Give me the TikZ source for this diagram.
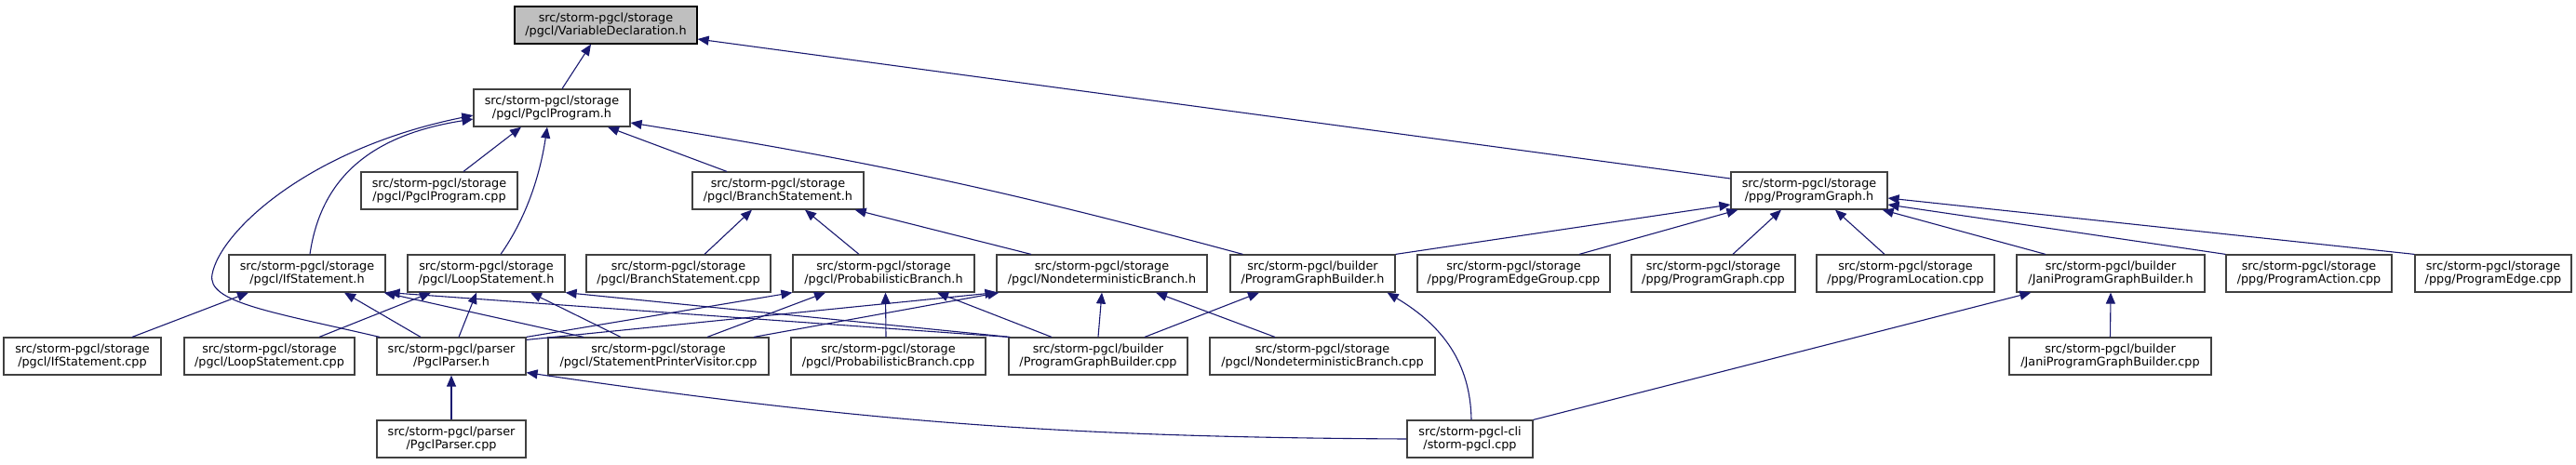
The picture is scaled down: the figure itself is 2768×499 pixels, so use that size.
\documentclass[tikz,border=0pt]{standalone}
\usepackage{fontspec}
\setmainfont{DejaVu Sans}
\usetikzlibrary{arrows.meta}
\definecolor{natt}{RGB}{25,25,112}
\definecolor{ramme}{RGB}{64,64,64}
\definecolor{graa}{RGB}{191,191,191}

\begin{document}
\begin{tikzpicture}[
  x=1pt, y=-1pt,
  fil/.style={draw=ramme, line width=1.2pt, fill=white, align=center, minimum height=40pt, inner xsep=4pt, inner ysep=0pt, font=\fontsize{12.8}{14}\selectfont},
  hoved/.style={fil, draw=black, fill=graa},
  kant/.style={draw=natt, line width=1.1pt, -{Triangle[length=12pt, width=10pt]}}
]
\useasboundingbox (0,0) rectangle (2768,499);
\node[hoved, minimum width=196pt] (vardecl) at (651,27) {src/storm-pgcl/storage\\/pgcl/VariableDeclaration.h};
\node[fil, minimum width=168pt] (pgclprog) at (593,116) {src/storm-pgcl/storage\\/pgcl/PgclProgram.h};
\node[fil, minimum width=168pt] (pgclprogcpp) at (472,205) {src/storm-pgcl/storage\\/pgcl/PgclProgram.cpp};
\node[fil, minimum width=184pt] (branchh) at (836,205) {src/storm-pgcl/storage\\/pgcl/BranchStatement.h};
\node[fil, minimum width=168pt] (proggraph) at (1944,205) {src/storm-pgcl/storage\\/ppg/ProgramGraph.h};
\node[fil, minimum width=168pt] (ifh) at (330,294) {src/storm-pgcl/storage\\/pgcl/IfStatement.h};
\node[fil, minimum width=169pt] (looph) at (522.5,294) {src/storm-pgcl/storage\\/pgcl/LoopStatement.h};
\node[fil, minimum width=198pt] (branchcpp) at (729,294) {src/storm-pgcl/storage\\/pgcl/BranchStatement.cpp};
\node[fil, minimum width=195pt] (probh) at (949.5,294) {src/storm-pgcl/storage\\/pgcl/ProbabilisticBranch.h};
\node[fil, minimum width=226pt] (nondeth) at (1184,294) {src/storm-pgcl/storage\\/pgcl/NondeterministicBranch.h};
\node[fil, minimum width=177pt] (pgbh) at (1410.5,294) {src/storm-pgcl/builder\\/ProgramGraphBuilder.h};
\node[fil, minimum width=207pt] (edgegroupcpp) at (1626.5,294) {src/storm-pgcl/storage\\/ppg/ProgramEdgeGroup.cpp};
\node[fil, minimum width=176pt] (graphcpp) at (1841,294) {src/storm-pgcl/storage\\/ppg/ProgramGraph.cpp};
\node[fil, minimum width=191pt] (locationcpp) at (2047.5,294) {src/storm-pgcl/storage\\/ppg/ProgramLocation.cpp};
\node[fil, minimum width=202pt] (janih) at (2268,294) {src/storm-pgcl/builder\\/JaniProgramGraphBuilder.h};
\node[fil, minimum width=178pt] (actioncpp) at (2481,294) {src/storm-pgcl/storage\\/ppg/ProgramAction.cpp};
\node[fil, minimum width=168pt] (edgecpp) at (2679,294) {src/storm-pgcl/storage\\/ppg/ProgramEdge.cpp};
\node[fil, minimum width=169pt] (ifcpp) at (88.5,383) {src/storm-pgcl/storage\\/pgcl/IfStatement.cpp};
\node[fil, minimum width=183pt] (loopcpp) at (289.5,383) {src/storm-pgcl/storage\\/pgcl/LoopStatement.cpp};
\node[fil, minimum width=160pt] (parserh) at (485,383) {src/storm-pgcl/parser\\/PgclParser.h};
\node[fil, minimum width=237pt] (printercpp) at (707.5,383) {src/storm-pgcl/storage\\/pgcl/StatementPrinterVisitor.cpp};
\node[fil, minimum width=209pt] (probcpp) at (954.5,383) {src/storm-pgcl/storage\\/pgcl/ProbabilisticBranch.cpp};
\node[fil, minimum width=192pt] (pgbcpp) at (1180,383) {src/storm-pgcl/builder\\/ProgramGraphBuilder.cpp};
\node[fil, minimum width=242pt] (nondetcpp) at (1421,383) {src/storm-pgcl/storage\\/pgcl/NondeterministicBranch.cpp};
\node[fil, minimum width=217pt] (janicpp) at (2267.5,383) {src/storm-pgcl/builder\\/JaniProgramGraphBuilder.cpp};
\node[fil, minimum width=160pt] (parsercpp) at (485,472) {src/storm-pgcl/parser\\/PgclParser.cpp};
\node[fil, minimum width=135pt] (cli) at (1579.5,472) {src/storm-pgcl-cli\\/storm-pgcl.cpp};
\draw[kant] ([xshift=11pt]pgclprog.north) -- ([xshift=-16pt]vardecl.south);
\draw[kant] ([yshift=13pt]proggraph.west) -- ([yshift=-15pt]vardecl.east);
\draw[kant] ([xshift=26pt]pgclprogcpp.north) -- ([xshift=-33pt]pgclprog.south);
\draw[kant] ([xshift=-55pt]branchh.north) -- ([xshift=60pt]pgclprog.south);
\draw[kant] ([xshift=-75pt]pgbh.north) to[bend right=3] ([yshift=-16pt]pgclprog.east);
\draw[kant] ([xshift=3pt]ifh.north) .. controls (345,190) and (400,145) .. ([yshift=-12pt]pgclprog.west);
\draw[kant] ([xshift=-77pt]parserh.north) .. controls (290,335) and (222,325) .. (228,295) .. controls (236,250) and (330,160) .. ([yshift=-8pt]pgclprog.west);
\draw[kant] ([xshift=15.5pt]looph.north) .. controls (565,235) and (580,190) .. ([xshift=-5pt]pgclprog.south);
\draw[kant] ([xshift=28pt]branchcpp.north) -- ([xshift=-28pt]branchh.south);
\draw[kant] ([xshift=-26.5pt]probh.north) -- ([xshift=29pt]branchh.south);
\draw[kant] ([xshift=-76pt]nondeth.north) -- ([xshift=-10pt]branchh.south east);
\draw[kant] ([xshift=53.5pt]ifcpp.north) -- ([xshift=-63pt]ifh.south);
\draw[kant] ([xshift=-33pt]parserh.north) -- ([xshift=40pt]ifh.south);
\draw[kant] ([xshift=-80.5pt]printercpp.north) -- ([xshift=-2pt]ifh.south east);
\draw[kant] (pgbcpp.north west) -- ([xshift=3pt]ifh.south east);
\draw[kant] ([xshift=53.5pt]loopcpp.north) -- ([xshift=-59.5pt]looph.south);
\draw[kant] ([xshift=8pt]parserh.north) -- ([xshift=-10.5pt]looph.south);
\draw[kant] ([xshift=-40.5pt]printercpp.north) -- ([xshift=47.5pt]looph.south);
\draw[kant] ([xshift=2pt]pgbcpp.north west) -- (looph.south east);
\draw[kant] (parserh.north east) -- (probh.south west);
\draw[kant] ([xshift=52.5pt]printercpp.north) -- ([xshift=-62.5pt]probh.south);
\draw[kant] ([xshift=-2.5pt]probcpp.north) -- ([xshift=2pt]probh.south);
\draw[kant] ([xshift=-50pt]pgbcpp.north) -- ([xshift=57.5pt]probh.south);
\draw[kant] ([yshift=-3pt]parserh.north east) -- (nondeth.south west);
\draw[kant] ([xshift=102.5pt]printercpp.north) -- ([xshift=3pt]nondeth.south west);
\draw[kant] (pgbcpp.north) -- (nondeth.south);
\draw[kant] ([xshift=-51pt]nondetcpp.north) -- ([xshift=58pt]nondeth.south);
\draw[kant] ([xshift=50pt]pgbcpp.north) -- ([xshift=-57.5pt]pgbh.south);
\draw[kant] ([xshift=1.5pt]cli.north) .. controls (1580,390) and (1550,350) .. ([xshift=-9pt]pgbh.south east);
\draw[kant] (pgbh.north east) -- ([yshift=-15pt]proggraph.west);
\draw[kant] ([xshift=70.5pt]edgegroupcpp.north) -- ([xshift=8pt]proggraph.south west);
\draw[kant] ([xshift=21pt]graphcpp.north) -- ([xshift=-30pt]proggraph.south);
\draw[kant] ([xshift=-22.5pt]locationcpp.north) -- ([xshift=28pt]proggraph.south);
\draw[kant] ([xshift=-70pt]janih.north) -- ([xshift=-6pt]proggraph.south east);
\draw[kant] (actioncpp.north west) -- ([yshift=-15pt]proggraph.east);
\draw[kant] (edgecpp.north west) -- ([yshift=-8pt]proggraph.east);
\draw[kant] (janicpp.north) -- (janih.south);
\draw[kant] (cli.north east) -- ([xshift=16pt]janih.south west);
\draw[kant] (cli.west) to[bend left=4] ([yshift=3pt]parserh.south east);
\draw[kant] (parsercpp.north) -- (parserh.south);
\end{tikzpicture}
\end{document}
